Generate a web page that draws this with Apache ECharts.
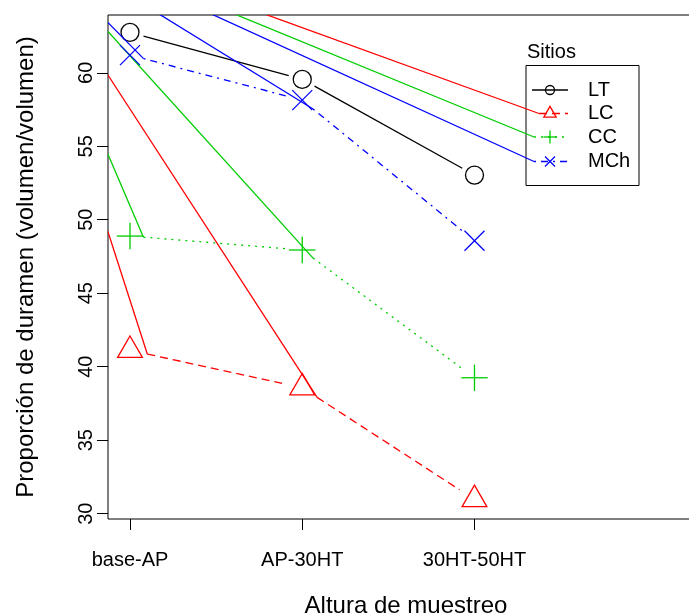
<!DOCTYPE html>
<html>
<head>
<meta charset="utf-8">
<script src="https://cdn.jsdelivr.net/npm/echarts@6/dist/echarts.min.js"></script>
<style>
html,body{margin:0;padding:0;background:#fff;}
#chart{width:689px;height:614px;}
</style>
</head>
<body>
<div id="chart"></div>
<script>
// ---- data ----
const categories = ['base-AP', 'AP-30HT', '30HT-50HT'];
const sites = ['LT', 'LC', 'CC', 'MCh'];
const LT  = [62.75, 59.55, 53.04];
const LC  = [41.12, 38.57, 30.97];
const CC  = [48.89, 47.94, 39.25];
const MCh = [61.20, 58.14, 48.57];
const yTicks = [30, 35, 40, 45, 50, 55, 60];
const xTicks = [1, 2, 3];
const siteValues = { LT: LT, LC: LC, CC: CC, MCh: MCh };

// ---- styles ----
const styles = {
  LT:  { color: '#000000', shape: 'circle',   dash: null,          gap: 14,   artifact: false, legStart: 532 },
  LC:  { color: '#FF0000', shape: 'triangle', dash: [8, 5],        gap: 17.7, artifact: true,  legStart: 539 },
  CC:  { color: '#00CD00', shape: 'plus',     dash: [2, 5],        gap: 13.5, artifact: true,  legStart: 534 },
  MCh: { color: '#0000FF', shape: 'cross',    dash: [2, 5, 7, 5],  gap: 14,   artifact: true,  legStart: 534 }
};
const LW = 1.3;
const FONT = 'Liberation Sans, Arial, Helvetica, sans-serif';

function marker(shape, x, y, scale, color) {
  const st = { stroke: color, fill: 'none', lineWidth: LW };
  if (shape === 'circle') {
    return [{ type: 'circle', shape: { cx: x, cy: y, r: 9 * scale }, style: st }];
  }
  if (shape === 'triangle') {
    const r = 14.3 * scale, h = r * 0.866;
    return [{ type: 'polygon', shape: { points: [[x, y - r], [x + h, y + r / 2], [x - h, y + r / 2]] }, style: st }];
  }
  if (shape === 'plus') {
    const h = 13.2 * scale;
    return [
      { type: 'line', shape: { x1: x - h, y1: y, x2: x + h, y2: y }, style: st },
      { type: 'line', shape: { x1: x, y1: y - h, x2: x, y2: y + h }, style: st }
    ];
  }
  const h = 10 * scale;
  return [
    { type: 'line', shape: { x1: x - h, y1: y - h, x2: x + h, y2: y + h }, style: st },
    { type: 'line', shape: { x1: x - h, y1: y + h, x2: x + h, y2: y - h }, style: st }
  ];
}

const legendRowY = { LT: 90, LC: 113.5, CC: 137, MCh: 161.5 };

function makeRender(name) {
  const vals = siteValues[name];
  const st = styles[name];
  return function (params, api) {
    const i = params.dataIndex;
    const cs = params.coordSys;
    const origin = [cs.x - 100, cs.y - 94];
    const p = api.coord([xTicks[i], vals[i]]);
    let children = marker(st.shape, p[0], p[1], 1, st.color);
    if (i < vals.length - 1) {
      const q = api.coord([xTicks[i + 1], vals[i + 1]]);
      const dx = q[0] - p[0], dy = q[1] - p[1], L = Math.hypot(dx, dy);
      const ux = dx / L, uy = dy / L;
      const a = [p[0] + ux * st.gap, p[1] + uy * st.gap];
      const b = [q[0] - ux * st.gap, q[1] - uy * st.gap];
      children.push({ type: 'line', shape: { x1: a[0], y1: a[1], x2: b[0], y2: b[1] },
        style: { stroke: st.color, lineWidth: LW, lineDash: st.dash } });
      if (st.artifact) {
        children.push({ type: 'line', shape: { x1: origin[0], y1: origin[1], x2: a[0], y2: a[1] },
          style: { stroke: st.color, lineWidth: LW } });
      }
    } else if (st.artifact) {
      children.push({ type: 'line', shape: { x1: origin[0], y1: origin[1], x2: st.legStart, y2: legendRowY[name] },
        style: { stroke: st.color, lineWidth: LW } });
    }
    return { type: 'group', children: children };
  };
}

const series = sites.map(function (name) {
  return {
    type: 'custom',
    name: name,
    clip: true,
    data: siteValues[name].map(function (v, i) { return [xTicks[i], v]; }),
    renderItem: makeRender(name),
    silent: true
  };
});

// legend drawn as graphic
const graphics = [
  { type: 'rect', shape: { x: 526, y: 65.5, width: 113, height: 120 }, style: { fill: 'none', stroke: '#000', lineWidth: 1 } },
  { type: 'text', x: 527, y: 52.5, style: { text: 'Sitios', font: '20px ' + FONT, fill: '#000', textVerticalAlign: 'middle', textAlign: 'left' } }
];
sites.forEach(function (name) {
  const st = styles[name];
  const y = legendRowY[name];
  graphics.push({ type: 'line', shape: { x1: st.legStart, y1: y, x2: 568, y2: y }, style: { stroke: st.color, lineWidth: LW, lineDash: st.dash } });
  marker(st.shape, 550, y, 0.5, st.color).forEach(function (m) { graphics.push(m); });
  graphics.push({ type: 'text', x: 588, y: y, style: { text: name, font: '20px ' + FONT, fill: '#000', textVerticalAlign: 'middle', textAlign: 'left' } });
});

const chart = echarts.init(document.getElementById('chart'), null, { renderer: 'canvas' });
chart.setOption({
  animation: false,
  backgroundColor: '#fff',
  textStyle: { fontFamily: FONT },
  grid: { left: 108, top: 15, width: 596, height: 504, show: true, borderColor: '#000', borderWidth: 1,
    containLabel: false, outerBoundsMode: 'none' },
  xAxis: {
    type: 'value', min: 0.8723, max: 4.3324,
    name: 'Altura de muestreo', nameLocation: 'middle', nameGap: 75,
    nameTextStyle: { fontSize: 24, color: '#000', fontFamily: FONT },
    axisLine: { show: false },
    splitLine: { show: false },
    axisTick: { show: true, inside: false, length: 11, lineStyle: { color: '#000', width: 1 }, customValues: xTicks },
    axisLabel: { show: true, margin: 31, fontSize: 20, color: '#000', fontFamily: FONT, customValues: xTicks,
      formatter: function (v) { return categories[Math.round(v) - 1] || ''; } }
  },
  yAxis: {
    type: 'value', min: 29.64, max: 63.93,
    name: 'Proporción de duramen (volumen/volumen)', nameLocation: 'middle', nameGap: 70, nameRotate: 90,
    nameTextStyle: { fontSize: 24, color: '#000', fontFamily: FONT },
    axisLine: { show: false },
    splitLine: { show: false },
    axisTick: { show: true, inside: false, length: 11, lineStyle: { color: '#000', width: 1 }, customValues: yTicks },
    axisLabel: { show: true, margin: 12, rotate: 90, fontSize: 20, color: '#000', fontFamily: FONT, customValues: yTicks }
  },
  graphic: graphics,
  series: series
});
</script>
</body>
</html>
